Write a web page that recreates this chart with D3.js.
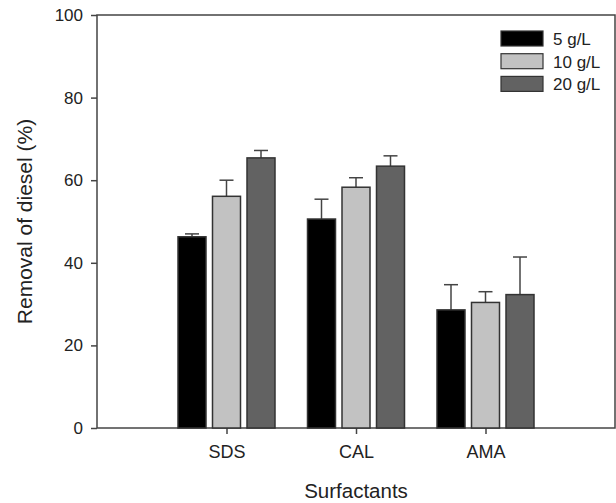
<!DOCTYPE html>
<html>
<head>
<meta charset="utf-8">
<script src="https://cdn.jsdelivr.net/npm/d3@7"></script>
<style>
  body { margin: 0; background: #fff; }
  text { font-family: "Liberation Sans", Arial, sans-serif; fill: #222; }
</style>
</head>
<body>
<div id="chart"></div>
<script>
// data
var categories = ["SDS", "CAL", "AMA"];
var seriesNames = ["5 g/L", "10 g/L", "20 g/L"];
var seriesColors = ["#000000", "#c2c2c2", "#626262"];
var values = [
  [46.3, 50.6, 28.6],   // 5 g/L
  [56.1, 58.3, 30.4],   // 10 g/L
  [65.4, 63.4, 32.3]    // 20 g/L
];
var errors = [
  [0.7, 4.8, 6.1],
  [3.9, 2.3, 2.6],
  [1.8, 2.5, 9.1]
];
var yTicks = [0, 20, 40, 60, 80, 100];

var margin = { top: 15, right: 1, bottom: 75, left: 97 },
  width = 616 - margin.left - margin.right,
  height = 503 - margin.top - margin.bottom;

var svg = d3.select("#chart")
  .append("svg")
  .attr("width", 616)
  .attr("height", 503)
  .append("g")
  .attr("transform", "translate(" + margin.left + "," + margin.top + ")");

// categories sit at 1,2,3 on a 0..4 axis
var x = d3.scaleLinear().domain([0, 4]).range([0, width]);
var y = d3.scaleLinear().domain([0, 100]).range([height, 0]);

var barW = 28, pitch = 34.5;

// frame
svg.append("rect")
  .attr("width", width)
  .attr("height", height)
  .attr("fill", "none")
  .attr("stroke", "#444")
  .attr("stroke-width", 1.5);

// y axis
var yAxis = svg.append("g")
  .call(d3.axisLeft(y).tickValues(yTicks).tickSize(6).tickPadding(8))
  .style("font-size", "17px");
yAxis.select(".domain").remove();
yAxis.selectAll("line").attr("stroke", "#444").attr("stroke-width", 1.5);
yAxis.selectAll("text").style("font-family", "Liberation Sans, Arial, sans-serif").attr("fill", "#222");

// x axis
var xAxis = svg.append("g")
  .attr("transform", "translate(0," + height + ")")
  .call(d3.axisBottom(x).tickValues([1, 2, 3])
    .tickFormat(function (d) { return categories[d - 1]; })
    .tickSize(6).tickPadding(11))
  .style("font-size", "18px");
xAxis.select(".domain").remove();
xAxis.selectAll("line").attr("stroke", "#444").attr("stroke-width", 1.5);
xAxis.selectAll("text").style("font-family", "Liberation Sans, Arial, sans-serif").attr("fill", "#222");

// bars + error bars
seriesNames.forEach(function (s, si) {
  var g = svg.append("g");
  categories.forEach(function (c, ci) {
    var cx = x(ci + 1) + (si - 1) * pitch;
    var v = values[si][ci], e = errors[si][ci];
    // error bar (upper only)
    g.append("line")
      .attr("x1", cx).attr("x2", cx)
      .attr("y1", y(v)).attr("y2", y(v + e))
      .attr("stroke", "#444").attr("stroke-width", 1.5);
    g.append("line")
      .attr("x1", cx - 7).attr("x2", cx + 7)
      .attr("y1", y(v + e)).attr("y2", y(v + e))
      .attr("stroke", "#444").attr("stroke-width", 1.5);
    g.append("rect")
      .attr("x", cx - barW / 2)
      .attr("y", y(v))
      .attr("width", barW)
      .attr("height", y(0) - y(v))
      .attr("fill", seriesColors[si])
      .attr("stroke", "#333")
      .attr("stroke-width", 1.5);
  });
});

// legend
var legend = svg.append("g").attr("transform", "translate(404,16)");
seriesNames.forEach(function (s, i) {
  legend.append("rect")
    .attr("x", 0).attr("y", i * 22.7)
    .attr("width", 42).attr("height", 15)
    .attr("fill", seriesColors[i])
    .attr("stroke", "#333").attr("stroke-width", 1.2);
  legend.append("text")
    .attr("x", 52).attr("y", i * 22.7 + 14)
    .style("font-size", "17px")
    .text(s);
});

// axis titles
svg.append("text")
  .attr("x", width / 2)
  .attr("y", height + 70)
  .style("text-anchor", "middle")
  .style("font-size", "20.5px")
  .text("Surfactants");

svg.append("text")
  .attr("transform", "rotate(-90)")
  .attr("x", -height / 2)
  .attr("y", -65)
  .style("text-anchor", "middle")
  .style("font-size", "21px")
  .text("Removal of diesel (%)");
</script>
</body>
</html>
